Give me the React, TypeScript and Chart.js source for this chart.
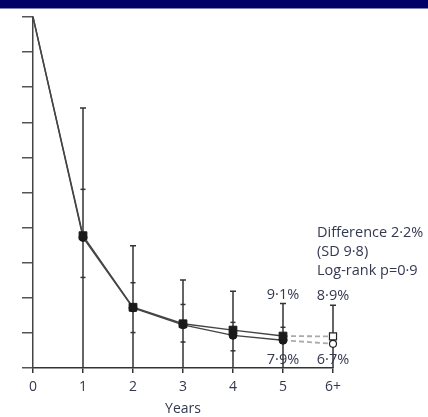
import React, { useEffect, useRef } from "react";
import { Chart, registerables } from "chart.js";

Chart.register(...registerables);

const xTickLabels = ["0", "1", "2", "3", "4", "5", "6+"];
const years = [0, 1, 2, 3, 4, 5];
const squareSurv = [100, 37.7, 17.3, 12.6, 10.8, 9.1];
const circleSurv = [100, 37.2, 17.1, 12.3, 9.3, 7.9];
const extYears = [5, 6];
const squareExt = [9.1, 9.0];
const circleExt = [7.9, 6.9];
const barYears = [1, 2, 3, 4, 5, 6];
const barUpper = [74.1, 34.8, 25.1, 21.9, 18.4, 17.9];
const innerUpper: (number | null)[] = [50.9, 24.3, 18.1, 13.0, 11.6, null];
const innerLower: (number | null)[] = [25.8, 10.1, 7.4, 4.9, null, null];
const topLabels = ["9·1%", "8·9%"];
const bottomLabels = ["7·9%", "6·7%"];
const noteLines = ["Difference 2·2%", "(SD 9·8)", "Log-rank p=0·9"];
const noteTopValue = 38.4;

const FONT = "'Open Sans', 'Noto Sans', sans-serif";
const TEXT = "#343850";
const INK = "#333";

export default function App() {
  const ref = useRef<HTMLCanvasElement | null>(null);

  useEffect(() => {
    if (!ref.current) return;

    const bgPlugin = {
      id: "bg",
      beforeDraw(chart: any) {
        const { ctx, width, height } = chart;
        ctx.save();
        ctx.fillStyle = "#fff";
        ctx.fillRect(0, 0, width, height);
        ctx.fillStyle = "#000066";
        ctx.fillRect(0, 0, width, 8.5);
        ctx.restore();
      },
    };

    const errPlugin = {
      id: "err",
      beforeDatasetsDraw(chart: any) {
        const { ctx } = chart;
        const xs = chart.scales.x;
        const ys = chart.scales.y;
        ctx.save();
        ctx.strokeStyle = INK;
        ctx.lineWidth = 1.5;
        barYears.forEach((yr, i) => {
          const px = xs.getPixelForValue(yr);
          const top = ys.getPixelForValue(barUpper[i]);
          const bot = ys.getPixelForValue(0);
          ctx.beginPath();
          ctx.moveTo(px, top);
          ctx.lineTo(px, bot);
          ctx.moveTo(px - 3, top);
          ctx.lineTo(px + 3, top);
          ctx.stroke();
          [innerUpper[i], innerLower[i]].forEach((v) => {
            if (v == null) return;
            const py = ys.getPixelForValue(v);
            ctx.beginPath();
            ctx.moveTo(px - 2.5, py);
            ctx.lineTo(px + 2.5, py);
            ctx.stroke();
          });
        });
        ctx.restore();
      },
    };

    const textPlugin = {
      id: "txt",
      afterDraw(chart: any) {
        const { ctx } = chart;
        const xs = chart.scales.x;
        const ys = chart.scales.y;
        ctx.save();
        ctx.fillStyle = TEXT;
        ctx.font = `14.5px ${FONT}`;
        ctx.textAlign = "center";
        ctx.textBaseline = "middle";
        extYears.forEach((yr, i) => {
          const px = xs.getPixelForValue(yr);
          const barIdx = barYears.indexOf(yr);
          const top = ys.getPixelForValue(barUpper[barIdx]);
          ctx.fillText(topLabels[i], px, top - 9);
          ctx.fillText(bottomLabels[i], px, ys.getPixelForValue(0) - 8);
        });
        ctx.textAlign = "left";
        const nx = xs.getPixelForValue(6) - 16;
        const ny = ys.getPixelForValue(noteTopValue);
        noteLines.forEach((t, i) => {
          ctx.fillText(t, nx, ny + i * 19);
        });
        ctx.restore();
      },
    };

    const solid = {
      borderColor: "#444",
      borderWidth: 1.4,
      tension: 0,
      pointBackgroundColor: "#1a1a1a",
      pointBorderColor: "#1a1a1a",
      pointBorderWidth: 1,
      clip: false,
    };

    const chart = new Chart(ref.current, {
      type: "line",
      data: {
        datasets: [
          {
            ...solid,
            data: years.map((x, i) => ({ x, y: squareSurv[i] })),
            pointStyle: "rect",
            pointRadius: years.map((_, i) => (i === 0 ? 0 : 5.5)),
            order: 1,
          },
          {
            ...solid,
            data: years.map((x, i) => ({ x, y: circleSurv[i] })),
            pointStyle: "circle",
            pointRadius: years.map((_, i) => (i === 0 ? 0 : 4)),
            order: 2,
          },
          {
            data: extYears.map((x, i) => ({ x, y: squareExt[i] })),
            borderColor: "#aaa",
            borderWidth: 1.8,
            borderDash: [5, 3],
            pointStyle: "rect",
            pointRadius: [0, 5],
            pointBackgroundColor: "#fff",
            pointBorderColor: "#222",
            pointBorderWidth: 1.2,
            clip: false,
            order: 3,
          },
          {
            data: extYears.map((x, i) => ({ x, y: circleExt[i] })),
            borderColor: "#aaa",
            borderWidth: 1.8,
            borderDash: [5, 3],
            pointStyle: "circle",
            pointRadius: [0, 3.5],
            pointBackgroundColor: "#fff",
            pointBorderColor: "#222",
            pointBorderWidth: 1.2,
            clip: false,
            order: 4,
          },
        ],
      },
      options: {
        responsive: false,
        animation: false,
        devicePixelRatio: 1,
        layout: { padding: { top: 17, right: 95, left: 0, bottom: 0 } },
        plugins: { legend: { display: false }, tooltip: { enabled: false } },
        scales: {
          x: {
            type: "linear",
            min: 0,
            max: 6,
            afterBuildTicks: (s: any) => {
              s.ticks = xTickLabels.map((_, i) => ({ value: i }));
            },
            ticks: {
              callback: (v: any) => xTickLabels[Number(v)] ?? "",
              color: TEXT,
              font: { family: FONT, size: 14 },
              padding: 6,
              maxRotation: 0,
              autoSkip: false,
            },
            grid: { drawOnChartArea: false, tickLength: 5, color: INK, lineWidth: 1.5 },
            border: { color: INK, width: 1.5 },
            title: {
              display: true,
              text: "Years",
              color: TEXT,
              font: { family: FONT, size: 14 },
              padding: { top: 0, bottom: 0 },
            },
            afterFit: (s: any) => {
              s.height = 49;
            },
          },
          y: {
            min: 0,
            max: 100,
            ticks: { stepSize: 10, display: false },
            grid: { drawOnChartArea: false, tickLength: 11, color: "#555", lineWidth: 1.5 },
            border: { color: "#444", width: 1.5 },
            afterFit: (s: any) => {
              s.width = 33;
            },
          },
        },
      },
      plugins: [bgPlugin, errPlugin, textPlugin],
    });

    return () => chart.destroy();
  }, []);

  return (
    <div style={{ position: "absolute", left: 0, top: 0, width: 428, height: 417 }}>
      <canvas ref={ref} width={428} height={417} style={{ display: "block", width: 428, height: 417 }} />
    </div>
  );
}
